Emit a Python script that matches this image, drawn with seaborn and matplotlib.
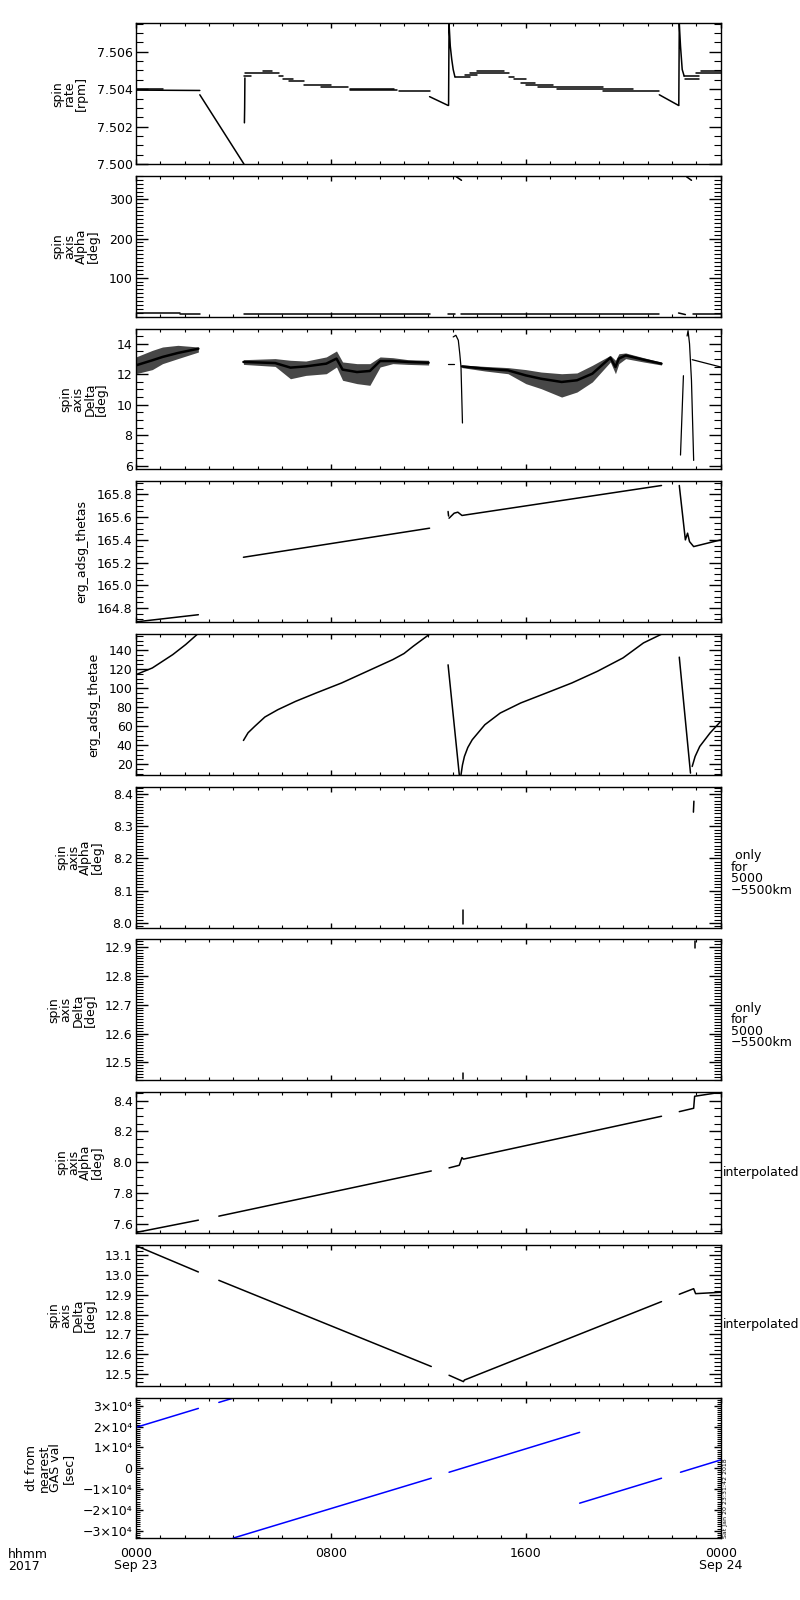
import numpy as np
import pandas as pd
import matplotlib
matplotlib.use("Agg")
import matplotlib.pyplot as plt
import seaborn as sns
from matplotlib.ticker import FixedLocator, MultipleLocator, FuncFormatter

# ---------------- data (hours since 2017-09-23 00:00) ----------------
# panel 1: spin rate [rpm]
rate_seg = [0,0, 1,1, 2,2, 3,3,3, 4,4, 5,5, 6,6, 7,7, 8,8, 9,9, 10,10, 11,11, 12,12, 13,13, 14,14, 15,15,
            16,16,16,16,16,16, 17,17, 18,18, 19,19, 20,20, 21,21, 22,22, 23,23, 24,24, 25,25, 26,26, 27,27,
            28,28, 29,29,29,29,29, 30,30, 31,31, 32,32, 33,33]
rate_t = [0.0,1.1, 0.0,2.62, 2.62,4.43, 4.45,4.46,4.47, 4.45,4.73, 4.47,5.87, 5.20,5.60, 5.87,6.05, 6.05,6.45,
          6.30,6.90, 6.90,8.00, 7.60,8.70, 8.80,10.60, 8.80,10.70, 10.80,12.05, 12.05,12.81,
          12.83,12.85,12.90,12.96,13.02,13.09, 13.09,13.73, 13.50,14.00, 13.73,15.33, 14.00,15.10,
          15.33,15.53, 15.53,16.01, 15.80,16.39, 16.01,17.10, 16.50,19.15, 17.30,20.38, 19.15,21.48,
          21.48,22.27, 22.28,22.30,22.35,22.42,22.50, 22.50,23.11, 22.55,23.10, 23.00,24.00, 23.20,24.00]
rate_v = [7.50402,7.50402, 7.50395,7.50393, 7.50370,7.50000, 7.50220,7.50300,7.50460, 7.50470,7.50470,
          7.50484,7.50484, 7.50495,7.50495, 7.50470,7.50470, 7.50456,7.50456, 7.50443,7.50443,
          7.50424,7.50424, 7.50413,7.50413, 7.50402,7.50402, 7.50395,7.50395, 7.50389,7.50389,
          7.50360,7.50313, 7.50313,7.50750,7.50630,7.50559,7.50505,7.50466, 7.50466,7.50466,
          7.50478,7.50478, 7.50484,7.50484, 7.50495,7.50495, 7.50466,7.50466, 7.50452,7.50452,
          7.50434,7.50434, 7.50424,7.50424, 7.50413,7.50413, 7.50402,7.50402, 7.50389,7.50389,
          7.50370,7.50313, 7.50313,7.50750,7.50630,7.50505,7.50470, 7.50470,7.50470, 7.50456,7.50456,
          7.50484,7.50484, 7.50495,7.50495]

# panel 2: spin axis alpha [deg] (full range)
alpha_seg = [0,0, 1,1, 2,2, 3,3, 4,4, 5,5, 6,6, 7,7, 8,8]
alpha_t = [0.0,1.8, 1.8,2.62, 4.43,12.05, 12.80,13.10, 13.15,13.36, 13.36,21.45, 22.27,22.55, 22.60,22.80, 22.85,24.0]
alpha_v = [8.2,8.2, 7.6,7.6, 7.8,7.8, 6.5,6.5, 358,349, 8.0,8.0, 9.5,5.5, 358,349, 8.0,8.0]

# panel 3: spin axis delta [deg]; noisy stretches given as centre and envelope
deltaA_t = [0.0, 0.67, 1.09, 1.72, 2.56]
deltaA_c = [12.58, 12.91, 13.13, 13.39, 13.67]
deltaA_hi = [13.13, 13.56, 13.78, 13.89, 13.78]
deltaA_lo = [12.03, 12.30, 12.69, 13.02, 13.45]
deltaB_t = [4.41, 5.71, 6.34, 6.97, 7.81, 8.23, 8.48, 9.07, 9.60, 10.02, 10.54, 11.17, 12.01]
deltaB_c = [12.80, 12.73, 12.43, 12.51, 12.69, 13.02, 12.30, 12.14, 12.21, 12.86, 12.86, 12.80, 12.75]
deltaB_hi = [12.95, 13.02, 12.91, 12.86, 13.13, 13.52, 12.80, 12.69, 12.69, 13.13, 13.08, 12.95, 12.91]
deltaB_lo = [12.64, 12.51, 11.70, 11.92, 12.03, 12.47, 11.60, 11.38, 11.27, 12.47, 12.69, 12.64, 12.60]
deltaE_t = [13.38, 14.32, 15.27, 16.00, 16.63, 17.47, 18.10, 18.73, 19.47, 19.68, 19.82, 20.10, 20.83, 21.57]
deltaE_c = [12.51, 12.36, 12.25, 11.92, 11.70, 11.49, 11.60, 12.03, 13.08, 12.47, 13.02, 13.23, 12.95, 12.69]
deltaE_hi = [12.60, 12.51, 12.43, 12.30, 12.14, 12.03, 12.08, 12.58, 13.23, 12.91, 13.34, 13.39, 13.08, 12.78]
deltaE_lo = [12.43, 12.21, 12.03, 11.38, 11.05, 10.50, 10.83, 11.49, 12.80, 12.03, 12.69, 13.02, 12.80, 12.60]
delta_seg = [0,0, 1,1,1,1,1,1, 2,2, 3,3,3,3,3, 4,4]
delta_t = [12.81,13.06, 13.02,13.13,13.23,13.29,13.34,13.40, 22.47,22.35, 22.62,22.66,22.72,22.80,22.89, 22.83,24.0]
delta_v = [12.69,12.69, 14.44,14.55,14.22,13.34,12.47,8.80, 11.90,6.70, 14.50,14.85,14.00,11.60,6.35, 12.95,12.47]

# panel 4: erg_adsg_thetas
thetas_seg = [0,0, 1,1, 2,2, 3,3,3,3,3, 4,4,4,4,4,4]
thetas_t = [0.04,2.56, 4.41,12.05, 12.81,12.83, 12.85,13.06,13.21,13.38,21.57, 22.30,22.55,22.64,22.72,22.89,24.0]
thetas_v = [164.679,164.741, 165.247,165.503, 165.65,165.61, 165.591,165.635,165.644,165.615,165.879,
            165.879,165.40,165.459,165.385,165.341,165.40]

# panel 5: erg_adsg_thetae
thetae_seg = [0]*5 + [1]*13 + [2]*2 + [3]*14 + [4]*2 + [5]*5
thetae_t = [0.0, 0.67, 1.51, 2.04, 2.52,
            4.41, 4.60, 4.87, 5.29, 5.82, 6.55, 7.39, 8.44, 9.49, 10.54, 11.00, 11.38, 12.05,
            12.81, 13.27,
            13.34, 13.40, 13.48, 13.62, 13.80, 14.32, 14.95, 15.79, 16.84, 17.89, 18.94, 19.99, 20.83, 21.57,
            22.30, 22.76,
            22.83, 22.95, 23.14, 23.56, 24.0]
thetae_v = [114.3, 121.3, 135.4, 146.0, 156.9,
            44.9, 53.0, 59.7, 69.6, 77.3, 86.1, 94.9, 105.5, 117.8, 130.1, 136.5, 144.2, 156.9,
            124.6, 8.7,
            8.7, 19.0, 28.0, 37.5, 45.6, 61.5, 73.8, 84.4, 94.9, 105.5, 117.8, 131.9, 147.7, 156.9,
            132.7, 10.5,
            17.5, 28.0, 38.6, 52.7, 65.0]

# panel 6 / 7: spin axis alpha / delta only for 5000-5500 km
alpha_r_seg = [0,0, 1,1]
alpha_r_t = [13.44,13.44, 22.90,22.88]
alpha_r_v = [8.040,7.995, 8.378,8.344]
delta_r_seg = [0,0, 1,1]
delta_r_t = [13.44,13.44, 22.93,22.93]
delta_r_v = [12.465,12.444, 12.920,12.897]

# panel 8 / 9: interpolated alpha / delta
alpha_i_seg = [0,0, 1,1, 2,2,2,2,2, 3,3,3,3]
alpha_i_t = [0.04,2.56, 3.40,12.12, 12.85,13.27,13.38,13.44,21.57, 22.30,22.89,22.93,24.0]
alpha_i_v = [7.543,7.622, 7.648,7.942, 7.962,7.979,8.029,8.019,8.298, 8.328,8.350,8.428,8.454]
delta_i_seg = [0,0, 1,1, 2,2,2,2, 3,3,3,3]
delta_i_t = [0.04,2.56, 3.40,12.12, 12.85,13.44,13.48,21.57, 22.30,22.89,22.97,24.0]
delta_i_v = [13.144,13.014, 12.972,12.539, 12.495,12.463,12.471,12.865, 12.902,12.930,12.905,12.912]

# panel 10: dt from nearest GAS value [sec]
dt_seg = [0,0, 1,1, 2,2, 3,3, 4,4, 5,5]
dt_t = [0.0,2.56, 3.40,3.99, 3.99,12.12, 12.85,18.21, 18.21,21.57, 22.35,24.0]
dt_v = [19680,28800, 31680,33760, -33600,-4800, -1920,17280, -16800,-4800, -1920,4000]

# axis ranges and ticks
ylims = [(7.5000, 7.50752), (0, 360), (5.76, 14.98), (164.676, 165.915), (8.7, 157.0),
         (7.9855, 8.4228), (12.4386, 12.9255), (7.539, 8.4545), (12.443, 13.150), (-33700, 34000)]
yticks = [[7.500, 7.502, 7.504, 7.506], [100, 200, 300], [6, 8, 10, 12, 14],
          [164.8, 165.0, 165.2, 165.4, 165.6, 165.8], [20, 40, 60, 80, 100, 120, 140],
          [8.0, 8.1, 8.2, 8.3, 8.4], [12.5, 12.6, 12.7, 12.8, 12.9],
          [7.6, 7.8, 8.0, 8.2, 8.4], [12.5, 12.6, 12.7, 12.8, 12.9, 13.0, 13.1],
          [-30000, -20000, -10000, 0, 10000, 20000, 30000]]
yminor = [0.0005, 10, 0.5, 0.05, 5, 0.01, 0.01, 0.05, 0.02, 1000]
yfmt = ["{:.3f}", "{:.0f}", "{:.0f}", "{:.1f}", "{:.0f}", "{:.1f}", "{:.1f}", "{:.1f}", "{:.1f}", None]
ylabels = ["spin\nrate\n[rpm]", "spin\naxis\nAlpha\n[deg]", "spin\naxis\nDelta\n[deg]",
           "erg_adsg_thetas", "erg_adsg_thetae", "spin\naxis\nAlpha\n[deg]", "spin\naxis\nDelta\n[deg]",
           "spin\naxis\nAlpha\n[deg]", "spin\naxis\nDelta\n[deg]", "dt from\nnearest\nGAS val\n[sec]"]
xticks = [0, 8, 16, 24]
xticklabels = ["0000\nSep 23", "0800", "1600", "0000\nSep 24"]

# ---------------- style ----------------
sns.set_theme(style="white")
plt.rcParams.update({
    "font.family": ["DejaVu Sans"],
    "font.size": 9,
    "axes.linewidth": 1.0,
    "axes.edgecolor": "black",
    "axes.labelcolor": "black",
    "text.color": "black",
    "xtick.color": "black",
    "ytick.color": "black",
    "xtick.direction": "in",
    "ytick.direction": "in",
    "xtick.top": True, "xtick.bottom": True,
    "ytick.left": True, "ytick.right": True,
})

W, H = 800, 1600
fig = plt.figure(figsize=(8, 16), dpi=100, facecolor="white")
left_px, right_px = 136, 720.7
top0, pitch, hgt = 23.3, 152.7, 140.7


def draw(ax, seg, t, v, color="black", lw=1.1):
    df = pd.DataFrame({"seg": seg, "t": t, "v": v})
    sns.lineplot(data=df, x="t", y="v", units="seg", estimator=None, sort=False,
                 color=color, lw=lw, ax=ax, legend=False)


def sci(val, pos):
    if abs(val) < 1:
        return "0"
    m = int(round(val / 1e4))
    s = "\u2212" if m < 0 else ""
    return f"{s}{abs(m)}\u00d710\u2074"


axes = []
for i in range(10):
    top = top0 + pitch * i
    ax = fig.add_axes([left_px / W, 1 - (top + hgt) / H, (right_px - left_px) / W, hgt / H])
    axes.append(ax)

draw(axes[0], rate_seg, rate_t, rate_v)
draw(axes[1], alpha_seg, alpha_t, alpha_v)
ax = axes[2]
for bt, bc, bh, bl in [(deltaA_t, deltaA_c, deltaA_hi, deltaA_lo),
                       (deltaB_t, deltaB_c, deltaB_hi, deltaB_lo),
                       (deltaE_t, deltaE_c, deltaE_hi, deltaE_lo)]:
    ax.fill_between(bt, bl, bh, color="0.28", lw=0)
    sns.lineplot(x=bt, y=bc, color="black", lw=1.8, ax=ax, sort=False, estimator=None)
draw(ax, delta_seg, delta_t, delta_v, lw=0.9)
draw(axes[3], thetas_seg, thetas_t, thetas_v)
draw(axes[4], thetae_seg, thetae_t, thetae_v)
draw(axes[5], alpha_r_seg, alpha_r_t, alpha_r_v)
draw(axes[6], delta_r_seg, delta_r_t, delta_r_v)
draw(axes[7], alpha_i_seg, alpha_i_t, alpha_i_v)
draw(axes[8], delta_i_seg, delta_i_t, delta_i_v)
draw(axes[9], dt_seg, dt_t, dt_v, color="#0000ff")

for i, ax in enumerate(axes):
    ax.set_xlim(0, 24)
    ax.set_ylim(*ylims[i])
    ax.yaxis.set_major_locator(FixedLocator(yticks[i]))
    ax.yaxis.set_minor_locator(MultipleLocator(yminor[i]))
    if yfmt[i] is None:
        ax.yaxis.set_major_formatter(FuncFormatter(sci))
    else:
        f = yfmt[i]
        ax.yaxis.set_major_formatter(FuncFormatter(lambda v, p, f=f: f.format(v)))
    ax.xaxis.set_major_locator(FixedLocator(xticks))
    ax.xaxis.set_minor_locator(MultipleLocator(1))
    ylen = (5, 3) if i == 9 else (8.5, 4.8)
    ax.tick_params(axis="y", which="major", length=ylen[0], width=1.0, pad=2.5, labelsize=9)
    ax.tick_params(axis="y", which="minor", length=ylen[1], width=0.8)
    ax.tick_params(axis="x", which="major", length=3.6, width=1.0, pad=6, labelsize=9)
    ax.tick_params(axis="x", which="minor", length=2.0, width=0.8)
    ax.set_xlabel("")
    ax.set_ylabel(ylabels[i], fontsize=9, linespacing=0.9, labelpad=6, multialignment="center")
    if i < 9:
        ax.set_xticklabels([])
    else:
        ax.set_xticklabels(xticklabels)
        for lbl in ax.get_xticklabels():
            lbl.set_linespacing(0.9)
    for sp in ax.spines.values():
        sp.set_visible(True)
        sp.set_color("black")
        sp.set_linewidth(1.0)

# right-hand notes
for i, off in [(5, 86), (6, 86)]:
    fig.text(731 / W, 1 - (top0 + pitch * i + off) / H, " only\nfor\n5000\n\u22125500km",
             ha="left", va="center", fontsize=9, linespacing=0.85)
for i, off in [(7, 80), (8, 80)]:
    fig.text(723 / W, 1 - (top0 + pitch * i + off) / H, "interpolated",
             ha="left", va="center", fontsize=9)

fig.text(8 / W, 1 - 1548 / H, "hhmm\n2017", ha="left", va="top", fontsize=9, linespacing=0.9)
fig.text(723 / W, 1 - 1538 / H, "Sat Jan 20 23:31:42 2018", rotation=90,
         ha="left", va="bottom", fontsize=4.5)

fig.savefig("out.png", dpi=100, facecolor="white")
